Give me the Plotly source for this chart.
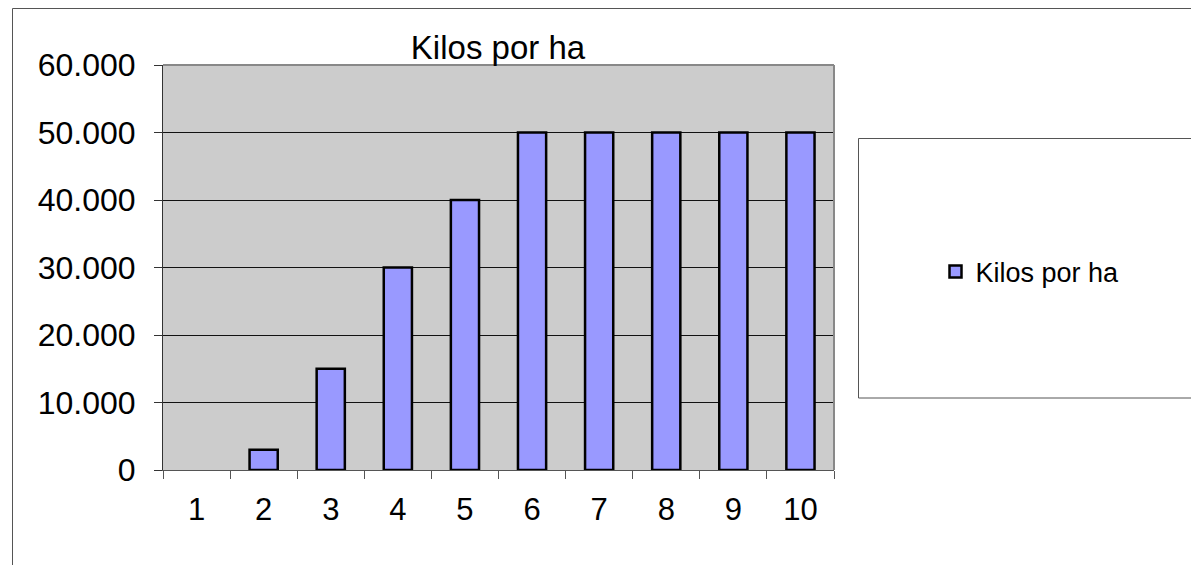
import plotly.graph_objects as go

categories = ["1", "2", "3", "4", "5", "6", "7", "8", "9", "10"]
kilos_por_ha = [0, 3000, 15000, 30000, 40000, 50000, 50000, 50000, 50000, 50000]
y_ticks = [0, 10000, 20000, 30000, 40000, 50000, 60000]
y_tick_labels = ["0", "10.000", "20.000", "30.000", "40.000", "50.000", "60.000"]

OFF = 8  # body margin of the html page
W, H = 1199 - OFF, 565 - OFF
L, R, T, B = 163 - OFF, 834 - OFF, 65 - OFF, 470 - OFF
pw, ph = R - L, B - T

def px(x):
    return (x - OFF - L) / pw

def py(y):
    return (B - (y - OFF)) / ph

FONT = "Liberation Sans, Arial, sans-serif"

# feed the points last-to-first so the legend symbol takes its style from a
# non-empty bar (zero-height bars get no outline, as in the reference)
xs = categories[::-1]
ys = kilos_por_ha[::-1]

fig = go.Figure()
fig.add_trace(go.Bar(
    x=xs, y=ys, name="Kilos por ha",
    marker=dict(color="#9999FF",
                line=dict(color="black", width=[2.5 if v > 0 else 0 for v in ys])),
    showlegend=True,
))

fig.update_layout(
    width=W, height=H,
    margin=dict(l=L, r=W - R, t=T, b=H - B),
    paper_bgcolor="white", plot_bgcolor="#CCCCCC",
    bargap=0.58,
    font=dict(family=FONT, color="black"),
    title=dict(text="Kilos por ha", x=px(498), xanchor="center", xref="paper",
               y=1 - (47 - OFF) / H, yanchor="middle", font=dict(size=33, family=FONT)),
    showlegend=True,
    legend=dict(x=px(1030), y=py(272), xanchor="center", yanchor="middle",
                xref="paper", yref="paper",
                font=dict(size=27, family=FONT), bgcolor="rgba(0,0,0,0)",
                itemwidth=30),
    xaxis=dict(type="category", categoryorder="array", categoryarray=categories,
               ticks="outside", tickson="boundaries", ticklen=8,
               tickcolor="#555555", showline=True, linecolor="#555555", linewidth=1,
               showgrid=False, tickfont=dict(size=31, family=FONT), fixedrange=True,
               ticklabelstandoff=12),
    yaxis=dict(range=[0, 60000], tickvals=y_ticks, ticktext=y_tick_labels,
               ticks="outside", ticklen=8, tickcolor="#333333",
               showline=True, linecolor="#333333", linewidth=1,
               showgrid=True, gridcolor="#111111", gridwidth=1, zeroline=False,
               tickfont=dict(size=32, family=FONT), ticklabelstandoff=12),
    shapes=[
        dict(type="line", xref="paper", yref="paper", x0=0, x1=1, y0=1, y1=1,
             line=dict(color="#888888", width=2)),
        dict(type="line", xref="paper", yref="paper", x0=1, x1=1, y0=0, y1=1,
             line=dict(color="#888888", width=2)),
        dict(type="rect", xref="paper", yref="paper", x0=px(12.5), x1=px(1215),
             y0=py(590), y1=py(8.5), line=dict(color="#555555", width=1),
             layer="below"),
        dict(type="rect", xref="paper", yref="paper", x0=px(858.5), x1=px(1215),
             y0=py(398), y1=py(138.5), line=dict(color="#555555", width=1),
             layer="below"),
    ],
)

fig.write_html("out.html")
